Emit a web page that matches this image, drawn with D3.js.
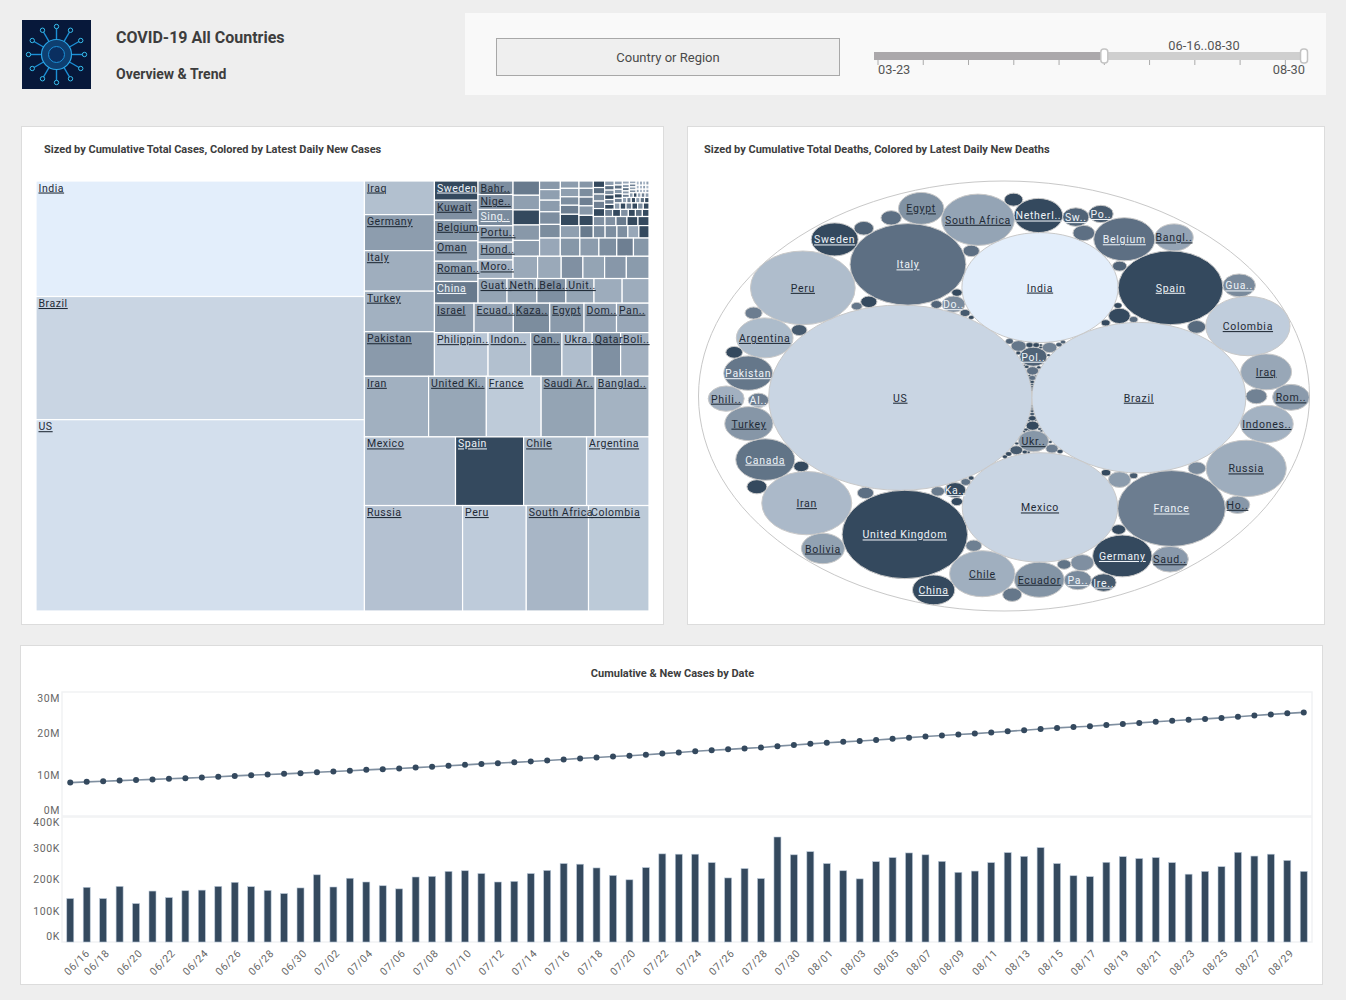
<!DOCTYPE html>
<html>
<head>
<meta charset="utf-8">
<script src="https://cdn.jsdelivr.net/npm/d3@7/dist/d3.min.js"></script>
<style>
  body { margin: 0; background: #eeeeee; }
  svg { display: block; }
  text { font-family: Roboto, sans-serif; }
</style>
</head>
<body>
<svg id="chart" width="1346" height="1000"></svg>
<script>
// ---- treemap data: [label, total cases (K), latest new cases] ----
const treeLeft = [['India', 3610, 78000], ['Brazil', 3850, 14400], ['US', 5980, 28000]];
const rowRussia = [['Russia', 985, 3700], ['Peru', 639, 7300], ['South Africa', 625, 1700], ['Colombia', 607, 6500]];
const rowMexico = [['Mexico', 595, 3000], ['Spain', 445, 0], ['Chile', 411, 1900], ['Argentina', 408, 8200]];
const rowIran = [['Iran', 370, 1100], ['United Ki..', 333, 600], ['France', 316, 7000], ['Saudi Ar..', 312, 490], ['Banglad..', 310, 1350]];
const colIraq = [['Iraq', 224, 3300], ['Germany', 240, 300], ['Italy', 270, 970], ['Turkey', 270, 1200], ['Pakistan', 297, 250]];
const rowPhil = [['Philippin..', 223, 5200], ['Indon..', 177, 3300], ['Can..', 130, 200], ['Ukra..', 126, 2970], ['Qatar', 118, 126], ['Boli..', 118, 1080]];
const rowIsrael = [['Israel', 111, 280], ['Ecuad..', 110, 620], ['Kaza..', 102, 100], ['Egypt', 96, 250], ['Dom..', 91, 550], ['Pan..', 91, 620]];
const colSweden = [['Sweden', 80, 0], ['Kuwait', 83, 130], ['Belgium', 85, 199], ['Oman', 85, 312], ['Roman..', 84, 490], ['China', 90, 28]];
const rowGuat = [['Guat..', 68, 490], ['Neth..', 70, 490], ['Bela..', 68, 126], ['Unit..', 66, 490], ['', 66, 860], ['', 63, 860]];
const colBahr = [['Bahr..', 45, 112], ['Nige..', 50, 158], ['Sing..', 54, 88], ['Portu..', 55, 350], ['Hond..', 59, 690], ['Moro..', 62, 1080]];
const rowCell6 = [['', 52, 690], ['', 50, 690], ['', 46, 130], ['', 46, 490], ['', 46, 210], ['', 48, 260]];
const colCell5 = [['', 36, 28], ['', 37, 350], ['', 38, 0], ['', 39, 220], ['', 40, 280]];
const rowCellA = [['', 36, 620], ['', 34, 199], ['', 33, 280], ['', 31, 112], ['', 29, 40], ['', 27, 199]];
const colCellB = [['', 17, 220], ['', 21, 350], ['', 23, 280], ['', 25, 112], ['', 27, 100]];
const rowCellC = [['', 23, 350], ['', 16, 28], ['', 14, 112], ['', 14, 112], ['', 13, 112], ['', 13, 620], ['', 12, 0]];
const colCellD = [['', 13, 280], ['', 15, 350], ['', 15, 112], ['', 16, 40], ['', 20, 0]];
const colCellE = [['', 10, 190], ['', 12, 100], ['', 12, 40], ['', 13, 220], ['', 14, 0]];
const rowCellF = [['', 10, 130], ['', 9.5, 130], ['', 9.5, 28], ['', 9.5, 0], ['', 9.5, 0]];
const colCellG = [['', 7, 0], ['', 7, 12], ['', 7.5, 100], ['', 8, 40], ['', 8.5, 0]];
const rowCellH = [['', 5.4, 40], ['', 5.4, 0], ['', 5.3, 130], ['', 4.8, 0], ['', 4.7, 12], ['', 4.5, 0]];
const colCellI = [['', 4.2, 280], ['', 4.2, 12], ['', 4.3, 100], ['', 4.4, 0], ['', 4.5, 40], ['', 4.6, 0]];
const rowCellJ = [['', 3.6, 280], ['', 3.6, 0], ['', 3.6, 40], ['', 3.5, 0], ['', 3.5, 112], ['', 3.5, 0]];
const colCellK = [['', 3.1, 350], ['', 3.3, 12], ['', 3.4, 200], ['', 3.5, 0], ['', 3.6, 40]];
const rowCellL = [['', 2.3, 350], ['', 2.3, 40], ['', 2.3, 0], ['', 2.3, 280], ['', 2.3, 12], ['', 2.3, 0]];
const colCellM = [['', 2.2, 620], ['', 2.2, 280], ['', 2.2, 12], ['', 2.2, 220], ['', 2.2, 40]];
const rowCellN = [['', 1.75, 350], ['', 1.75, 0], ['', 1.75, 620], ['', 1.75, 40], ['', 1.75, 280]];
const colCellO = [['', 1.9, 620], ['', 1.9, 40], ['', 1.9, 350], ['', 1.9, 112]];
const rowCellP = [['', 1.3, 2000], ['', 1.3, 620], ['', 1.3, 2000], ['', 1.3, 350]];
const rowCellQ = [['', 1.2, 2000], ['', 1.2, 2000], ['', 1.2, 280], ['', 1.2, 2000]];
const rowCellR = [['', 1.1, 350], ['', 1.1, 2000], ['', 1.1, 2000], ['', 1.1, 620]];

// nesting alternates: even depth = columns, odd depth = rows
const treeRoot = [treeLeft, [
  [colIraq, [
    [colSweden, [
      [colBahr, [
        [colCell5, [
          [colCellB, [
            [colCellD, colCellE, [
              [colCellG, [
                [colCellI, [
                  [colCellK, [
                    [colCellM, [
                      [colCellO, [rowCellP, rowCellQ, rowCellR]],
                      rowCellN]],
                    rowCellL]],
                  rowCellJ]],
                rowCellH]],
              rowCellF]],
            rowCellC]],
          rowCellA]],
        rowCell6]],
      rowGuat]],
    rowIsrael, rowPhil]],
  rowIran, rowMexico, rowRussia]];

// ---- bubble data, in placing order ----
const deathNames = ['US', 'Brazil', 'India', 'Mexico', 'United Kingdom', 'Italy', 'France', 'Spain', 'Peru', 'Iran',
  'Colombia', 'South Africa', 'Russia', 'Chile', 'Belgium', 'Germany', 'Canada', 'Argentina', 'Ecuador', 'Indones..',
  'Iraq', 'Netherl..', 'Turkey', 'Pakistan', 'Pol..', 'Ukr..', 'Ka..', 'Do..', '', '',
  '', '', 'Sw..', 'Pa..', '', '', 'Sweden', 'Egypt', 'Bolivia', 'China',
  'Bangl..', 'Saud..', 'Phili..', 'Rom..', 'Gua..', 'Ho..', 'Po..', 'Ire..', 'Al..'];
const deathTotals = [183050, 120828, 64469, 63819, 41585, 35477, 30606, 29011, 28944, 21359,
  18767, 14028, 16977, 11289, 9879, 9302, 9188, 8498, 6571, 7343,
  6846, 6234, 6163, 6284, 1950, 2437, 1200, 1400, 1400, 1300,
  1250, 1250, 1830, 1950, 700, 700, 5808, 5421, 4900, 4718,
  3900, 3530, 3420, 3600, 2800, 1600, 1600, 1650, 1100];
const deathNew = [353, 500, 1000, 353, 0, 4, 8, 0, 125, 110,
  250, 44, 65, 70, 4, 0, 5, 120, 22, 80,
  50, 0, 24, 6, 2, 25, 0, 14, 18, 30,
  0, 4, 2, 14, 0, 4, 0, 20, 40, 0,
  45, 28, 75, 30, 14, 25, 1, 1, 8];
const smallTotals = [1180, 1100, 1060, 1000, 960, 900, 860, 820, 780,
  740, 700, 670, 640, 610, 590, 560, 530, 510, 490,
  470, 450, 420, 400, 380, 350, 330, 310, 290, 270,
  250, 230, 210, 190, 175, 160, 150, 135, 125, 115,
  105, 95, 90, 85, 80, 75, 70, 66, 62, 58,
  54, 50, 47, 44, 41, 38, 35, 33, 31, 29,
  27, 25, 23, 21, 19, 17, 15, 14, 13, 12,
  11, 10, 9, 8, 7, 6, 5, 4, 3, 2];
const smallNew = [10, 4, 0, 2, 6, 0, 3, 14, 8,
  0, 4, 9, 1, 6, 0, 10, 2, 0, 5,
  7, 0, 1, 8, 4, 0, 2, 6, 0, 1,
  5, 0, 0, 3, 1, 0, 2, 0, 0, 4,
  0, 0, 1, 0, 0, 0, 2, 0, 0, 0,
  1, 0, 0, 0, 0, 1, 0, 0, 0, 0,
  0, 0, 1, 0, 0, 0, 0, 0, 0, 0,
  0, 0, 0, 0, 0, 0, 0, 0, 0];

// ---- time series data ----
const dates = ['06/16', '06/17', '06/18', '06/19', '06/20', '06/21', '06/22', '06/23', '06/24', '06/25', '06/26', '06/27', '06/28', '06/29', '06/30',
  '07/01', '07/02', '07/03', '07/04', '07/05', '07/06', '07/07', '07/08', '07/09', '07/10', '07/11', '07/12', '07/13', '07/14', '07/15', '07/16', '07/17', '07/18', '07/19', '07/20', '07/21', '07/22', '07/23', '07/24', '07/25', '07/26', '07/27', '07/28', '07/29', '07/30', '07/31',
  '08/01', '08/02', '08/03', '08/04', '08/05', '08/06', '08/07', '08/08', '08/09', '08/10', '08/11', '08/12', '08/13', '08/14', '08/15', '08/16', '08/17', '08/18', '08/19', '08/20', '08/21', '08/22', '08/23', '08/24', '08/25', '08/26', '08/27', '08/28', '08/29', '08/30'];
const cumulative = [8.08, 8.26, 8.39, 8.57, 8.70, 8.86, 9.00, 9.16, 9.33, 9.51, 9.70, 9.88, 10.04, 10.20, 10.37,
  10.58, 10.76, 10.96, 11.16, 11.34, 11.51, 11.71, 11.92, 12.15, 12.38, 12.60, 12.79, 12.98, 13.20, 13.43, 13.68, 13.93, 14.17, 14.38, 14.58, 14.82, 15.10, 15.38, 15.66, 15.92, 16.12, 16.36, 16.56, 16.90, 17.17, 17.46,
  17.71, 17.94, 18.14, 18.40, 18.67, 18.96, 19.24, 19.49, 19.72, 19.94, 20.20, 20.48, 20.76, 21.06, 21.31, 21.52, 21.73, 21.99, 22.26, 22.53, 22.80, 23.05, 23.27, 23.49, 23.73, 24.02, 24.30, 24.58, 24.84, 25.06];
const newCases = [139, 175, 139, 178, 123, 163, 142, 164, 166, 178, 191, 177, 165, 155, 173,
  215, 176, 204, 192, 180, 170, 208, 210, 226, 228, 219, 192, 194, 219, 229, 251, 249, 237, 213, 199, 238, 282, 281, 281, 254, 205, 235, 203, 336, 279, 289,
  251, 228, 202, 257, 270, 285, 279, 258, 223, 227, 254, 286, 274, 302, 251, 212, 209, 255, 273, 267, 270, 254, 217, 226, 241, 287, 275, 281, 261, 226];
const cumTicks = [0, 10, 20, 30];
const newTicks = [0, 100, 200, 300, 400];

const svg = d3.select('#chart');
const dark = '#34495e';

// ---- cards ----
const cards = [[21.5, 126.5, 642, 498], [687.5, 126.5, 637, 498], [20.5, 645.5, 1302, 339]];
svg.selectAll('rect.card').data(cards).join('rect').attr('class', 'card')
  .attr('x', d => d[0]).attr('y', d => d[1]).attr('width', d => d[2]).attr('height', d => d[3])
  .attr('fill', '#fff').attr('stroke', '#dcdcdc');

const title = (x, y, s, size, anchor) => svg.append('text').attr('x', x).attr('y', y)
  .attr('font-size', size).attr('font-weight', 700).attr('fill', '#3d3d3d')
  .attr('text-anchor', anchor || 'start').text(s);

title(44, 153, 'Sized by Cumulative Total Cases, Colored by Latest Daily New Cases', 11);
title(704, 153, 'Sized by Cumulative Total Deaths, Colored by Latest Daily New Deaths', 11);
title(672.5, 677, 'Cumulative & New Cases by Date', 11, 'middle');
title(116, 43, 'COVID-19 All Countries', 16);
title(116, 79, 'Overview & Trend', 14);

// ---- header icon ----
const icon = svg.append('g').attr('transform', 'translate(56.5,54.5)');
icon.append('rect').attr('x', -34.5).attr('y', -34.5).attr('width', 69).attr('height', 69).attr('fill', '#07183a');
const angles = d3.range(0, 360, 30);
icon.selectAll('line').data(angles).join('line')
  .attr('x1', a => 14 * Math.cos(a * Math.PI / 180)).attr('y1', a => 14 * Math.sin(a * Math.PI / 180))
  .attr('x2', a => 28 * Math.cos(a * Math.PI / 180)).attr('y2', a => 28 * Math.sin(a * Math.PI / 180))
  .attr('stroke', '#1c8fd6').attr('stroke-width', 1.4);
icon.selectAll('circle.tip').data(angles).join('circle').attr('class', 'tip')
  .attr('cx', a => 28 * Math.cos(a * Math.PI / 180)).attr('cy', a => 28 * Math.sin(a * Math.PI / 180))
  .attr('r', 2.2).attr('fill', '#07183a').attr('stroke', '#38c0f0').attr('stroke-width', 1);
icon.append('circle').attr('r', 15).attr('fill', '#0e3f70').attr('stroke', '#2aa5e6').attr('stroke-width', 1.2);
icon.append('circle').attr('r', 8).attr('fill', '#0a2f60').attr('stroke', '#1c8fd6');

// ---- filter panel ----
svg.append('rect').attr('x', 465).attr('y', 13).attr('width', 861).attr('height', 82).attr('fill', '#f9f9f9');
svg.append('rect').attr('x', 496.5).attr('y', 38.5).attr('width', 343).attr('height', 37)
  .attr('fill', '#efefef').attr('stroke', '#a8a8a8');
svg.append('text').attr('x', 668).attr('y', 62).attr('text-anchor', 'middle')
  .attr('font-size', 13).attr('fill', '#4a4a4a').text('Country or Region');

const sliderX = d3.scaleTime().domain([new Date(2020, 2, 23), new Date(2020, 7, 30)]).range([878, 1304]);
const sliderY = 56;
svg.append('line').attr('x1', 874).attr('x2', 1308).attr('y1', sliderY).attr('y2', sliderY)
  .attr('stroke', '#cfcfcf').attr('stroke-width', 8);
svg.append('line').attr('x1', 874).attr('x2', sliderX(new Date(2020, 5, 16))).attr('y1', sliderY).attr('y2', sliderY)
  .attr('stroke', '#aba8ab').attr('stroke-width', 8);
const sliderTicks = d3.timeDay.range(new Date(2020, 2, 23), new Date(2020, 7, 31), 17);
svg.selectAll('line.stick').data(sliderTicks).join('line').attr('class', 'stick')
  .attr('x1', d => sliderX(d)).attr('x2', d => sliderX(d)).attr('y1', 60).attr('y2', 65).attr('stroke', '#aaa');
svg.selectAll('rect.handle').data([new Date(2020, 5, 16), new Date(2020, 7, 30)]).join('rect').attr('class', 'handle')
  .attr('x', d => sliderX(d) - 3.5).attr('y', 49).attr('width', 7).attr('height', 14).attr('rx', 3)
  .attr('fill', '#fff').attr('stroke', '#c4c4c4').attr('stroke-width', 1.5);
const sliderText = [[878, 74, 'start', '03-23'], [1305, 74, 'end', '08-30'], [1204, 50, 'middle', '06-16..08-30']];
svg.selectAll('text.slab').data(sliderText).join('text').attr('class', 'slab')
  .attr('x', d => d[0]).attr('y', d => d[1]).attr('text-anchor', d => d[2])
  .attr('font-size', 12.8).attr('fill', '#555').text(d => d[3]);

// ---- shared label helper ----
const labelFill = c => d3.lab(c).l < 57 ? '#eef3f8' : '#1f2a36';

// ---- treemap ----
const caseColor = d3.scaleSymlog().constant(1).domain([0, 78000]).range([dark, '#e3eefb']);
const tile = (node, x0, y0, x1, y1) =>
  (node.depth % 2 === 0 ? d3.treemapDice : d3.treemapSlice)(node, x0, y0, x1, y1);
const isLeaf = d => typeof d[0] === 'string';
const treeNodes = d3.hierarchy(treeRoot, d => isLeaf(d) ? null : d).sum(d => isLeaf(d) ? d[1] : 0);
d3.treemap().tile(tile).size([613, 430])(treeNodes);

const tree = svg.append('g').attr('transform', 'translate(36,181)');
tree.selectAll('rect').data(treeNodes.leaves()).join('rect')
  .attr('x', d => d.x0).attr('y', d => d.y0)
  .attr('width', d => Math.max(0, d.x1 - d.x0)).attr('height', d => Math.max(0, d.y1 - d.y0))
  .attr('fill', d => caseColor(d.data[2])).attr('stroke', '#fff').attr('stroke-width', 1.2);
tree.selectAll('text').data(treeNodes.leaves().filter(d => d.data[0])).join('text')
  .attr('x', d => d.x0 + 2.5).attr('y', d => d.y0 + 10.5)
  .attr('font-size', 10.5).attr('letter-spacing', 0.55).attr('text-decoration', 'underline')
  .attr('fill', d => labelFill(caseColor(d.data[2]))).text(d => d.data[0]);

// ---- bubbles ----
const deathColor = d3.scaleSymlog().constant(1).domain([0, 1000]).range([dark, '#e3eefb']);
const bubbleRows = deathNames.map((n, i) => ({ name: n, total: deathTotals[i], fresh: deathNew[i] }))
  .concat(smallTotals.map((v, i) => ({ name: '', total: v, fresh: smallNew[i] })));

// greedy packing: each circle in turn takes the free tangent spot nearest the middle,
// so small circles drop into the holes between the big ones
function packGreedy(rows) {
  const placed = [];
  rows.forEach((row, n) => {
    const r = Math.sqrt(row.total);
    if (n === 0) { placed.push({ ...row, r, x: 0, y: 0 }); return; }
    if (n === 1) {
      placed[0].x = -r;
      placed.push({ ...row, r, x: placed[0].r, y: 0 });
      return;
    }
    let best = null, bestD = Infinity;
    for (let i = 0; i < placed.length; i++) {
      for (let j = i + 1; j < placed.length; j++) {
        const a = placed[i], b = placed[j];
        const dx = b.x - a.x, dy = b.y - a.y, d = Math.hypot(dx, dy);
        const ra = a.r + r, rb = b.r + r;
        if (d > ra + rb) continue;
        const along = (d * d + ra * ra - rb * rb) / (2 * d);
        const h = Math.sqrt(Math.max(0, ra * ra - along * along));
        for (const s of [-1, 1]) {
          const cx = a.x + (along * dx - s * h * dy) / d;
          const cy = a.y + (along * dy + s * h * dx) / d;
          const dist = cx * cx + cy * cy;
          if (dist >= bestD) continue;
          const clash = placed.some(p => Math.hypot(p.x - cx, p.y - cy) < p.r + r - 1e-6);
          if (!clash) { best = { x: cx, y: cy }; bestD = dist; }
        }
      }
    }
    placed.push({ ...row, r, x: best.x, y: best.y });
  });
  return placed;
}
const packed = packGreedy(bubbleRows);
const hull = d3.packEnclose(packed);

const bx = d3.scaleLinear().domain([hull.x - hull.r, hull.x + hull.r]).range([698.5, 1309.5]);
const by = d3.scaleLinear().domain([hull.y - hull.r, hull.y + hull.r]).range([181, 611]);
const rxOf = r => bx(r) - bx(0);
const ryOf = r => by(r) - by(0);
const ell = svg.append('g');
ell.append('ellipse').attr('cx', bx(hull.x)).attr('cy', by(hull.y)).attr('rx', rxOf(hull.r)).attr('ry', ryOf(hull.r))
  .attr('fill', 'none').attr('stroke', '#c8c8c8');
const bubbles = ell.selectAll('g').data(packed).join('g')
  .attr('transform', d => `translate(${bx(d.x)},${by(d.y)})`);
bubbles.append('ellipse').attr('rx', d => rxOf(d.r)).attr('ry', d => ryOf(d.r))
  .attr('fill', d => deathColor(d.fresh)).attr('stroke', '#c9c9c9').attr('stroke-width', d => rxOf(d.r) > 4 ? 1 : 0.4);
bubbles.filter(d => d.name).append('text').attr('text-anchor', 'middle').attr('dy', 4)
  .attr('font-size', 10.5).attr('letter-spacing', 0.7).attr('text-decoration', 'underline')
  .attr('fill', d => labelFill(deathColor(d.fresh))).text(d => d.name);

// ---- time series ----
const x = d3.scaleBand().domain(dates).range([62, 1312]).paddingInner(0.575).paddingOuter(0.29);
const yCum = d3.scaleLinear().domain([0, 30]).range([816, 692]);
const yNew = d3.scaleLinear().domain([0, 400]).range([942, 817]);
const mid = d => x(d) + x.bandwidth() / 2;

const frames = [[62, 692, 1250, 124], [62, 817, 1250, 125]];
svg.selectAll('rect.frame').data(frames).join('rect').attr('class', 'frame')
  .attr('x', d => d[0]).attr('y', d => d[1]).attr('width', d => d[2]).attr('height', d => d[3])
  .attr('fill', 'none').attr('stroke', '#f1f2f4').attr('stroke-width', 1.5);

function yAxis(scale, ticks, suffix, shift) {
  const g = svg.append('g').attr('transform', 'translate(62,0)')
    .call(d3.axisLeft(scale).tickValues(ticks).tickSize(0).tickPadding(2).tickFormat(d => d + suffix));
  g.select('.domain').remove();
  g.selectAll('text').attr('font-size', 10.5).attr('letter-spacing', 0.6).attr('fill', '#666').style('font-family', 'Roboto')
    .attr('dy', d => d === ticks[0] ? '-0.2em' : d === ticks[ticks.length - 1] ? `${shift}em` : '0.32em');
}
yAxis(yCum, cumTicks, 'M', 0.9);
yAxis(yNew, newTicks, 'K', 0.85);

svg.append('path').datum(cumulative).attr('fill', 'none').attr('stroke', '#7f8fa0').attr('stroke-width', 1.6)
  .attr('d', d3.line().x((d, i) => mid(dates[i])).y(d => yCum(d)));
svg.selectAll('circle.pt').data(cumulative).join('circle').attr('class', 'pt')
  .attr('cx', (d, i) => mid(dates[i])).attr('cy', d => yCum(d)).attr('r', 3).attr('fill', dark);

svg.selectAll('rect.bar').data(newCases).join('rect').attr('class', 'bar')
  .attr('x', (d, i) => x(dates[i])).attr('y', d => yNew(d))
  .attr('width', x.bandwidth()).attr('height', d => yNew(0) - yNew(d))
  .attr('fill', dark).attr('stroke', '#b9c7d6').attr('stroke-width', 0.6);

const xAxis = svg.append('g').attr('transform', 'translate(0,942)')
  .call(d3.axisBottom(x).tickValues(dates.filter((d, i) => i % 2 === 0)).tickSize(0));
xAxis.select('.domain').remove();
xAxis.selectAll('text').attr('x', 0).attr('y', 0).attr('dy', 0).attr('text-anchor', 'end')
  .attr('font-size', 10.5).attr('letter-spacing', 0.6).attr('fill', '#666').style('font-family', 'Roboto')
  .attr('transform', (d, i) => `translate(${i === 0 ? 20 : 7},12) rotate(-45)`);
</script>
</body>
</html>
